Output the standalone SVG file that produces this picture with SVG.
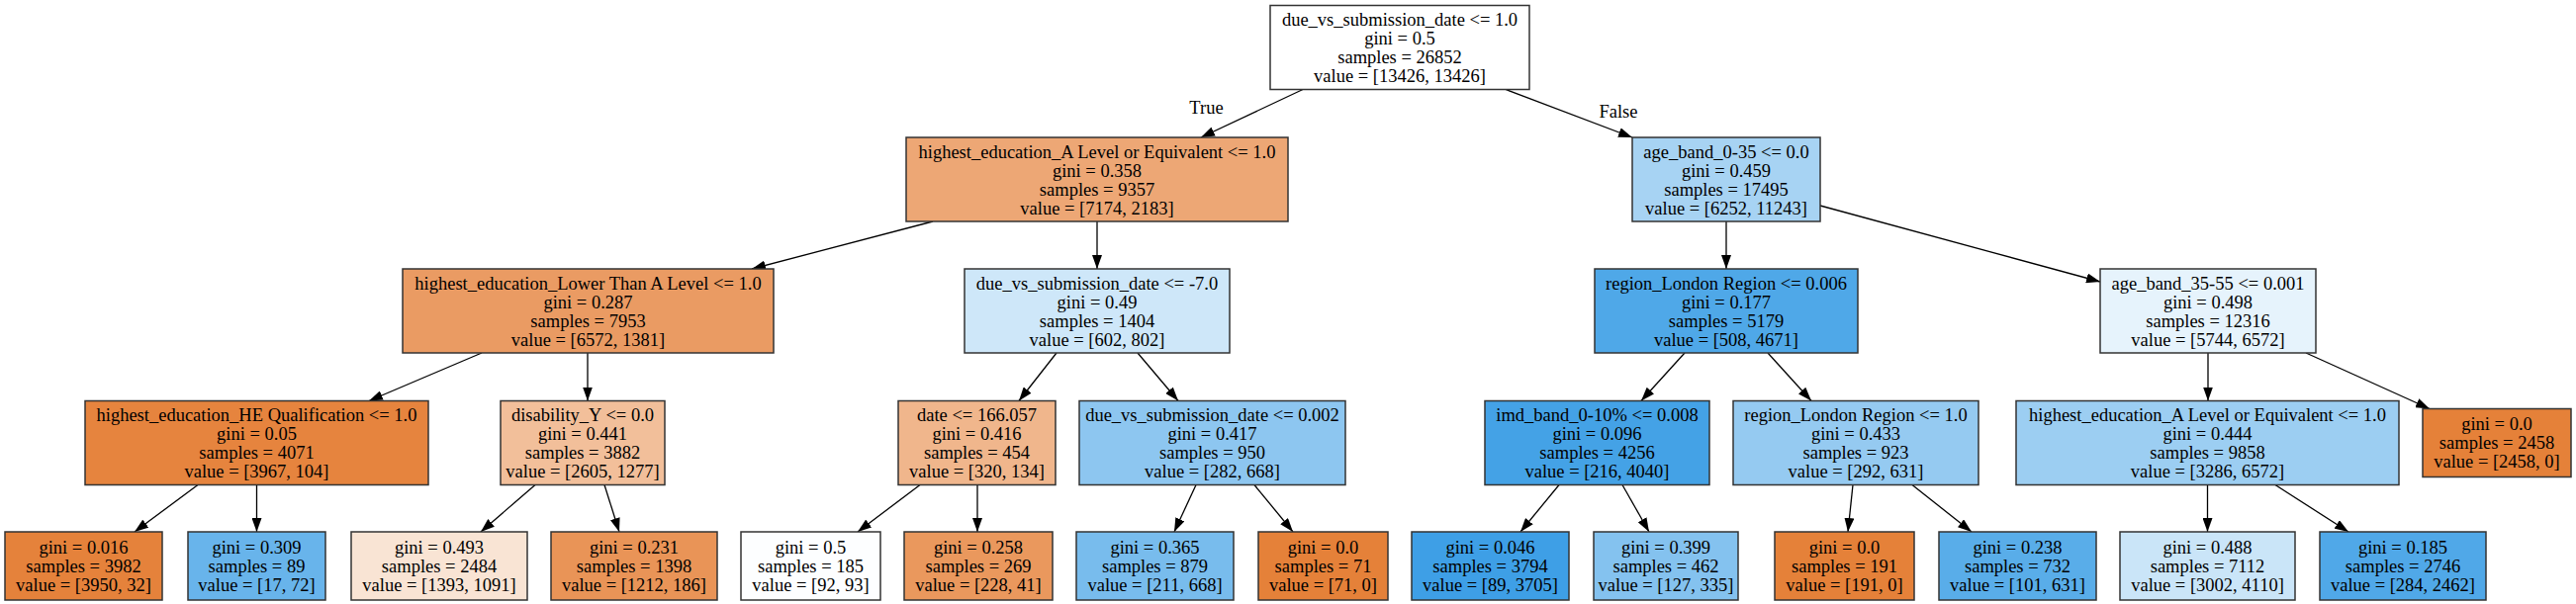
<svg xmlns="http://www.w3.org/2000/svg" width="2604" height="611" viewBox="0 0 2604 611">
<style>
  rect.n { stroke: #333333; stroke-width: 1.5; }
  text { font-family: "Liberation Serif", "Times New Roman", serif; font-size: 18.5px; fill: #000; text-anchor: middle; }
  .e line { stroke: #000; stroke-width: 1.3; fill: none; marker-end: url(#ah); }
</style>
<defs>
  <marker id="ah" markerUnits="userSpaceOnUse" markerWidth="14" markerHeight="10" refX="14" refY="5" orient="auto">
    <path d="M0,0 L14,5 L0,10 z" fill="#000"/>
  </marker>
</defs>
<rect width="2604" height="611" fill="#ffffff"/>

<g id="connectors" class="e">
  <line x1="1317" y1="90.5" x2="1214" y2="139"/>
  <line x1="1522" y1="90.5" x2="1650" y2="139"/>
  <line x1="943" y1="224" x2="760" y2="272"/>
  <line x1="1109" y1="224" x2="1109" y2="272"/>
  <line x1="1745" y1="224" x2="1745" y2="272"/>
  <line x1="1840" y1="208" x2="2123" y2="285"/>
  <line x1="487" y1="357" x2="373" y2="405.5"/>
  <line x1="594" y1="357" x2="594" y2="405.5"/>
  <line x1="1068" y1="357" x2="1030" y2="405.5"/>
  <line x1="1150" y1="357" x2="1191" y2="405.5"/>
  <line x1="1703" y1="357" x2="1659" y2="405.5"/>
  <line x1="1787" y1="357" x2="1831" y2="405.5"/>
  <line x1="2232" y1="357" x2="2232" y2="405.5"/>
  <line x1="2331" y1="357" x2="2456" y2="413.5"/>
  <line x1="200" y1="490.5" x2="136" y2="538"/>
  <line x1="259.5" y1="490.5" x2="259.5" y2="538"/>
  <line x1="541" y1="490.5" x2="486" y2="538"/>
  <line x1="611" y1="490.5" x2="626" y2="538"/>
  <line x1="930" y1="490.5" x2="867" y2="538"/>
  <line x1="988" y1="490.5" x2="988" y2="538"/>
  <line x1="1209" y1="490.5" x2="1187" y2="538"/>
  <line x1="1268" y1="490.5" x2="1307" y2="538"/>
  <line x1="1576" y1="490.5" x2="1537" y2="538"/>
  <line x1="1640" y1="490.5" x2="1667" y2="538"/>
  <line x1="1873" y1="490.5" x2="1868" y2="538"/>
  <line x1="1933" y1="490.5" x2="1993" y2="538"/>
  <line x1="2231.5" y1="490.5" x2="2231.5" y2="538"/>
  <line x1="2300" y1="490.5" x2="2374" y2="538"/>
</g>
<g id="edge-labels">
  <text x="1219.5" y="115">True</text>
  <text x="1636" y="119">False</text>
</g>

<g id="n0"><rect class="n" x="1284" y="5.5" width="262" height="85" fill="#ffffff"/>
  <text x="1415" y="26.3">due_vs_submission_date &lt;= 1.0</text><text x="1415" y="45.3">gini = 0.5</text><text x="1415" y="64.3">samples = 26852</text><text x="1415" y="83.3">value = [13426, 13426]</text></g>

<g id="n1"><rect class="n" x="916" y="139" width="386" height="85" fill="#eda775"/>
  <text x="1109" y="159.8">highest_education_A Level or Equivalent &lt;= 1.0</text><text x="1109" y="178.8">gini = 0.358</text><text x="1109" y="197.8">samples = 9357</text><text x="1109" y="216.8">value = [7174, 2183]</text></g>

<g id="n2"><rect class="n" x="1650" y="139" width="190" height="85" fill="#a7d3f3"/>
  <text x="1745" y="159.8">age_band_0-35 &lt;= 0.0</text><text x="1745" y="178.8">gini = 0.459</text><text x="1745" y="197.8">samples = 17495</text><text x="1745" y="216.8">value = [6252, 11243]</text></g>

<g id="n3"><rect class="n" x="407" y="272" width="375" height="85" fill="#ea9b63"/>
  <text x="594.5" y="292.8">highest_education_Lower Than A Level &lt;= 1.0</text><text x="594.5" y="311.8">gini = 0.287</text><text x="594.5" y="330.8">samples = 7953</text><text x="594.5" y="349.8">value = [6572, 1381]</text></g>

<g id="n4"><rect class="n" x="975" y="272" width="268" height="85" fill="#cee7f9"/>
  <text x="1109" y="292.8">due_vs_submission_date &lt;= -7.0</text><text x="1109" y="311.8">gini = 0.49</text><text x="1109" y="330.8">samples = 1404</text><text x="1109" y="349.8">value = [602, 802]</text></g>

<g id="n5"><rect class="n" x="1612" y="272" width="266" height="85" fill="#4fa8e8"/>
  <text x="1745" y="292.8">region_London Region &lt;= 0.006</text><text x="1745" y="311.8">gini = 0.177</text><text x="1745" y="330.8">samples = 5179</text><text x="1745" y="349.8">value = [508, 4671]</text></g>

<g id="n6"><rect class="n" x="2123" y="272" width="218" height="85" fill="#e6f3fc"/>
  <text x="2232" y="292.8">age_band_35-55 &lt;= 0.001</text><text x="2232" y="311.8">gini = 0.498</text><text x="2232" y="330.8">samples = 12316</text><text x="2232" y="349.8">value = [5744, 6572]</text></g>

<g id="n7"><rect class="n" x="86" y="405.5" width="347" height="85" fill="#e6843e"/>
  <text x="259.5" y="426.3">highest_education_HE Qualification &lt;= 1.0</text><text x="259.5" y="445.3">gini = 0.05</text><text x="259.5" y="464.3">samples = 4071</text><text x="259.5" y="483.3">value = [3967, 104]</text></g>

<g id="n8"><rect class="n" x="506" y="405.5" width="166" height="85" fill="#f2bf9a"/>
  <text x="589" y="426.3">disability_Y &lt;= 0.0</text><text x="589" y="445.3">gini = 0.441</text><text x="589" y="464.3">samples = 3882</text><text x="589" y="483.3">value = [2605, 1277]</text></g>

<g id="n9"><rect class="n" x="908" y="405.5" width="159" height="85" fill="#f0b68c"/>
  <text x="987.5" y="426.3">date &lt;= 166.057</text><text x="987.5" y="445.3">gini = 0.416</text><text x="987.5" y="464.3">samples = 454</text><text x="987.5" y="483.3">value = [320, 134]</text></g>

<g id="n10"><rect class="n" x="1091" y="405.5" width="269" height="85" fill="#8dc6f0"/>
  <text x="1225.5" y="426.3">due_vs_submission_date &lt;= 0.002</text><text x="1225.5" y="445.3">gini = 0.417</text><text x="1225.5" y="464.3">samples = 950</text><text x="1225.5" y="483.3">value = [282, 668]</text></g>

<g id="n11"><rect class="n" x="1501" y="405.5" width="227" height="85" fill="#44a2e6"/>
  <text x="1614.5" y="426.3">imd_band_0-10% &lt;= 0.008</text><text x="1614.5" y="445.3">gini = 0.096</text><text x="1614.5" y="464.3">samples = 4256</text><text x="1614.5" y="483.3">value = [216, 4040]</text></g>

<g id="n12"><rect class="n" x="1752" y="405.5" width="248" height="85" fill="#95caf1"/>
  <text x="1876" y="426.3">region_London Region &lt;= 1.0</text><text x="1876" y="445.3">gini = 0.433</text><text x="1876" y="464.3">samples = 923</text><text x="1876" y="483.3">value = [292, 631]</text></g>

<g id="n13"><rect class="n" x="2038" y="405.5" width="387" height="85" fill="#9ccef2"/>
  <text x="2231.5" y="426.3">highest_education_A Level or Equivalent &lt;= 1.0</text><text x="2231.5" y="445.3">gini = 0.444</text><text x="2231.5" y="464.3">samples = 9858</text><text x="2231.5" y="483.3">value = [3286, 6572]</text></g>

<g id="n14"><rect class="n" x="2449" y="413.5" width="150" height="69" fill="#e58139"/>
  <text x="2524" y="435.3">gini = 0.0</text><text x="2524" y="454.3">samples = 2458</text><text x="2524" y="473.3">value = [2458, 0]</text></g>

<g id="n15"><rect class="n" x="5" y="538" width="159" height="69" fill="#e5823b"/>
  <text x="84.5" y="559.8">gini = 0.016</text><text x="84.5" y="578.8">samples = 3982</text><text x="84.5" y="597.8">value = [3950, 32]</text></g>

<g id="n16"><rect class="n" x="190" y="538" width="139" height="69" fill="#68b4eb"/>
  <text x="259.5" y="559.8">gini = 0.309</text><text x="259.5" y="578.8">samples = 89</text><text x="259.5" y="597.8">value = [17, 72]</text></g>

<g id="n17"><rect class="n" x="355" y="538" width="178" height="69" fill="#f9e4d4"/>
  <text x="444" y="559.8">gini = 0.493</text><text x="444" y="578.8">samples = 2484</text><text x="444" y="597.8">value = [1393, 1091]</text></g>

<g id="n18"><rect class="n" x="557" y="538" width="168" height="69" fill="#e99457"/>
  <text x="641" y="559.8">gini = 0.231</text><text x="641" y="578.8">samples = 1398</text><text x="641" y="597.8">value = [1212, 186]</text></g>

<g id="n19"><rect class="n" x="749" y="538" width="141" height="69" fill="#fdfeff"/>
  <text x="819.5" y="559.8">gini = 0.5</text><text x="819.5" y="578.8">samples = 185</text><text x="819.5" y="597.8">value = [92, 93]</text></g>

<g id="n20"><rect class="n" x="914" y="538" width="150" height="69" fill="#ea985d"/>
  <text x="989" y="559.8">gini = 0.258</text><text x="989" y="578.8">samples = 269</text><text x="989" y="597.8">value = [228, 41]</text></g>

<g id="n21"><rect class="n" x="1088" y="538" width="159" height="69" fill="#78bced"/>
  <text x="1167.5" y="559.8">gini = 0.365</text><text x="1167.5" y="578.8">samples = 879</text><text x="1167.5" y="597.8">value = [211, 668]</text></g>

<g id="n22"><rect class="n" x="1272" y="538" width="131" height="69" fill="#e58139"/>
  <text x="1337.5" y="559.8">gini = 0.0</text><text x="1337.5" y="578.8">samples = 71</text><text x="1337.5" y="597.8">value = [71, 0]</text></g>

<g id="n23"><rect class="n" x="1427" y="538" width="159" height="69" fill="#3e9fe6"/>
  <text x="1506.5" y="559.8">gini = 0.046</text><text x="1506.5" y="578.8">samples = 3794</text><text x="1506.5" y="597.8">value = [89, 3705]</text></g>

<g id="n24"><rect class="n" x="1611" y="538" width="146" height="69" fill="#84c2ef"/>
  <text x="1684" y="559.8">gini = 0.399</text><text x="1684" y="578.8">samples = 462</text><text x="1684" y="597.8">value = [127, 335]</text></g>

<g id="n25"><rect class="n" x="1794" y="538" width="141" height="69" fill="#e58139"/>
  <text x="1864.5" y="559.8">gini = 0.0</text><text x="1864.5" y="578.8">samples = 191</text><text x="1864.5" y="597.8">value = [191, 0]</text></g>

<g id="n26"><rect class="n" x="1960" y="538" width="159" height="69" fill="#59ade9"/>
  <text x="2039.5" y="559.8">gini = 0.238</text><text x="2039.5" y="578.8">samples = 732</text><text x="2039.5" y="597.8">value = [101, 631]</text></g>

<g id="n27"><rect class="n" x="2143" y="538" width="177" height="69" fill="#cae5f8"/>
  <text x="2231.5" y="559.8">gini = 0.488</text><text x="2231.5" y="578.8">samples = 7112</text><text x="2231.5" y="597.8">value = [3002, 4110]</text></g>

<g id="n28"><rect class="n" x="2345" y="538" width="168" height="69" fill="#50a8e8"/>
  <text x="2429" y="559.8">gini = 0.185</text><text x="2429" y="578.8">samples = 2746</text><text x="2429" y="597.8">value = [284, 2462]</text></g>
</svg>
